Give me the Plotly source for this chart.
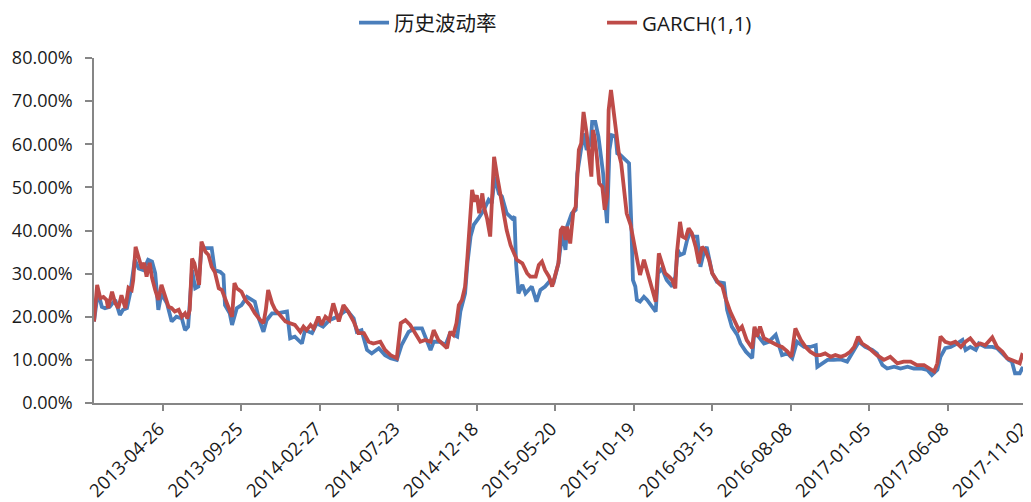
import plotly.graph_objects as go

# trading-day index positions and values (%)
hv_idx = [0, 5, 10, 14, 20, 27, 33, 37, 42, 46, 52, 57, 63, 69, 74, 78, 82, 86, 93, 99, 105, 112, 116, 120,
          125, 129, 133, 137, 144, 150, 154, 161, 165, 167, 173, 176, 182, 188, 195, 205, 210, 216, 220, 227,
          233, 246, 250, 256, 265, 269, 278, 284, 292, 300, 310, 322, 331, 335, 341, 348, 354, 363, 371, 378,
          386, 392, 401, 409, 418, 422, 429, 433, 441, 448, 454, 463, 467, 473, 476, 480, 484, 490, 497, 503,
          507, 511, 516, 520, 526, 533, 536, 538, 541, 546, 550, 558, 564, 569, 575, 582, 586, 592, 597, 601,
          603, 609, 614, 616, 620, 624, 628, 633, 635, 639, 643, 645, 649, 651, 654, 657, 660, 665, 667, 671,
          677, 682, 685, 687, 690, 692, 696, 701, 705, 711, 716, 719, 724, 730, 737, 741, 744, 747, 752, 756,
          760, 764, 769, 773, 777, 781, 788, 794, 803, 807, 813, 820, 824, 831, 839, 842, 847, 854, 860, 869,
          877, 884, 890, 896, 905, 913, 920, 922, 928, 935, 943, 952, 960, 966, 975, 983, 992, 998, 1005, 1011,
          1020, 1028, 1037, 1045, 1054, 1062, 1068, 1075, 1079, 1085, 1092, 1100, 1107, 1111, 1117, 1124, 1128,
          1136, 1145, 1151, 1160, 1166, 1170, 1174, 1180, 1183, 1188]
hv_val = [18.9, 25.8, 22.3, 22.0, 22.3, 23.9, 20.4, 21.6, 22.0, 25.4, 33.2, 31.2, 30.8, 33.2, 32.8, 30.1, 21.6,
          25.4, 23.1, 18.9, 20.0, 19.6, 16.9, 17.7, 30.8, 26.6, 27.0, 35.9, 35.9, 35.9, 30.8, 30.4, 29.7, 22.7,
          20.8, 18.1, 22.0, 22.7, 24.6, 23.5, 19.6, 16.5, 19.2, 20.8, 20.8, 21.2, 15.0, 15.4, 13.8, 16.9, 16.2,
          18.5, 17.7, 19.2, 20.0, 21.6, 19.6, 16.5, 16.9, 12.3, 11.5, 12.7, 11.1, 10.4, 10.0, 13.4, 16.5, 17.3,
          17.3, 15.4, 12.3, 14.2, 14.2, 13.4, 16.2, 15.4, 21.2, 25.4, 32.4, 38.6, 41.3, 42.8, 44.8, 47.1, 46.3,
          52.5, 48.6, 47.9, 44.0, 42.8, 43.2, 32.4, 25.4, 27.4, 25.4, 27.0, 23.5, 26.2, 27.0, 28.5, 28.1, 32.4,
          39.4, 35.5, 40.9, 44.0, 44.8, 53.2, 57.9, 62.5, 58.7, 60.2, 65.2, 65.2, 61.8, 58.7, 53.2, 47.8, 41.7,
          58.7, 62.1, 61.8, 57.9, 57.5, 56.3, 55.6, 40.9, 28.5, 27.0, 23.9, 23.5, 24.6, 23.9, 22.3, 21.2, 30.1,
          31.2, 28.5, 27.0, 29.3, 35.5, 34.3, 34.7, 37.8, 39.7, 38.6, 38.6, 31.6, 34.7, 36.2, 30.1, 28.1, 27.8,
          21.6, 17.7, 15.8, 13.8, 11.9, 10.4, 17.3, 15.4, 13.8, 14.2, 15.8, 11.1, 11.5, 10.4, 14.2, 13.0, 13.0,
          13.4, 8.4, 9.2, 10.0, 10.0, 10.1, 9.6, 11.5, 14.2, 13.0, 12.3, 11.5, 8.8, 8.0, 8.4, 8.0, 8.4, 8.0, 8.0,
          7.7, 6.5, 7.7, 10.7, 12.7, 13.0, 13.8, 14.6, 12.3, 13.0, 12.3, 13.8, 13.0, 13.0, 12.7, 11.1, 10.0, 9.6,
          6.9, 6.9, 8.0, 7.7]

garch_idx = [0, 4, 8, 12, 16, 18, 23, 27, 31, 35, 40, 44, 48, 50, 53, 57, 61, 64, 67, 71, 74, 78, 82, 86, 91,
             95, 99, 103, 108, 112, 116, 119, 122, 125, 128, 131, 134, 137, 142, 146, 150, 154, 159, 163, 167,
             171, 176, 179, 182, 188, 193, 199, 205, 212, 216, 219, 222, 227, 231, 237, 244, 250, 256, 263, 267,
             271, 276, 280, 286, 290, 295, 300, 305, 312, 318, 324, 331, 337, 344, 350, 356, 365, 371, 378, 386,
             391, 397, 403, 409, 416, 422, 429, 433, 439, 446, 450, 454, 458, 462, 465, 469, 473, 476, 479, 482,
             485, 488, 491, 495, 497, 501, 505, 508, 510, 514, 518, 522, 526, 531, 535, 539, 546, 552, 556, 563,
             567, 571, 575, 580, 584, 588, 592, 595, 598, 601, 603, 607, 611, 614, 616, 618, 621, 624, 628, 631,
             634, 636, 638, 641, 644, 648, 651, 654, 656, 659, 662, 665, 669, 672, 675, 679, 684, 688, 692, 696,
             701, 705, 709, 716, 720, 724, 728, 733, 737, 741, 743, 747, 750, 754, 758, 762, 767, 771, 775, 779,
             784, 788, 792, 796, 801, 805, 811, 818, 822, 826, 832, 839, 842, 845, 849, 854, 858, 864, 871, 877,
             884, 889, 894, 901, 907, 913, 920, 926, 932, 939, 945, 952, 958, 964, 969, 974, 979, 986, 992, 998,
             1007, 1015, 1024, 1032, 1041, 1049, 1058, 1064, 1071, 1075, 1079, 1085, 1092, 1098, 1105, 1111, 1117,
             1124, 1130, 1136, 1145, 1151, 1158, 1164, 1173, 1180, 1183, 1188]
garch_val = [18.9, 27.4, 24.3, 24.6, 23.9, 22.0, 25.8, 23.2, 22.0, 25.0, 22.0, 26.7, 26.2, 28.5, 36.2, 33.9,
             31.2, 32.5, 29.3, 32.5, 29.0, 26.2, 23.9, 27.4, 24.6, 22.3, 22.0, 21.2, 21.6, 20.0, 20.8, 19.6, 21.6,
             33.5, 32.4, 30.1, 27.4, 37.4, 35.1, 34.3, 31.6, 30.4, 26.6, 26.2, 24.3, 22.0, 20.0, 27.8, 26.6, 25.8,
             23.9, 22.7, 20.8, 19.2, 18.5, 21.6, 26.2, 23.1, 21.6, 20.4, 18.9, 18.5, 18.1, 16.5, 17.7, 16.9, 18.1,
             17.3, 20.0, 18.1, 20.0, 19.2, 23.1, 18.9, 22.7, 21.2, 18.9, 16.2, 16.2, 14.2, 13.8, 14.2, 12.3, 11.1,
             10.4, 18.5, 19.2, 18.1, 16.2, 14.2, 14.6, 14.2, 16.9, 14.6, 13.4, 12.7, 16.5, 15.8, 18.5, 22.7, 23.9,
             27.0, 33.9, 41.7, 49.4, 46.7, 48.2, 44.0, 48.6, 45.5, 42.8, 38.6, 51.7, 57.1, 52.5, 48.6, 44.8, 40.1,
             36.6, 34.7, 33.2, 32.4, 30.1, 29.3, 29.3, 32.0, 32.8, 30.8, 29.3, 27.0, 30.1, 32.4, 40.1, 40.9, 37.8,
             40.9, 37.0, 44.4, 45.5, 54.0, 58.7, 60.2, 67.5, 62.5, 57.9, 52.5, 63.3, 61.8, 57.1, 50.9, 50.1, 44.8,
             47.8, 67.9, 72.6, 67.9, 64.5, 57.9, 55.6, 50.1, 44.0, 41.3, 37.8, 33.9, 29.7, 33.2, 30.4, 27.8, 23.5,
             34.7, 32.4, 30.1, 29.3, 28.5, 26.6, 34.7, 42.0, 38.6, 38.2, 40.5, 39.4, 36.2, 32.4, 36.2, 35.5, 33.2,
             30.1, 28.9, 27.8, 27.0, 24.3, 21.2, 18.1, 16.9, 17.7, 14.6, 12.7, 17.7, 15.4, 17.7, 15.0, 14.6, 14.2,
             13.4, 13.0, 11.9, 10.7, 17.3, 14.6, 13.0, 11.9, 11.1, 11.1, 11.5, 10.7, 11.1, 10.7, 11.1, 11.9, 13.0,
             15.4, 13.8, 13.0, 11.9, 11.1, 10.0, 10.7, 9.2, 9.6, 9.6, 8.8, 8.8, 8.0, 7.3, 9.2, 15.4, 14.2, 13.8,
             14.2, 13.0, 14.2, 15.0, 13.4, 13.8, 13.4, 15.2, 13.0, 11.9, 10.4, 9.6, 9.2, 11.1, 10.6]

tick_idx = [88, 188, 288, 388, 488, 588, 688, 788, 888, 988, 1088, 1188]
tick_labels = ["2013-04-26", "2013-09-25", "2014-02-27", "2014-07-23", "2014-12-18", "2015-05-20",
               "2015-10-19", "2016-03-15", "2016-08-08", "2017-01-05", "2017-06-08", "2017-11-02"]

FONT = "Open Sans, Noto Sans CJK SC, sans-serif"
AXIS = "#868686"

fig = go.Figure()
fig.add_trace(go.Scatter(x=hv_idx, y=[v / 100 for v in hv_val], mode="lines", name="历史波动率",
                         line=dict(color="#4A7EBB", width=3.8)))
fig.add_trace(go.Scatter(x=garch_idx, y=[v / 100 for v in garch_val], mode="lines", name="GARCH(1,1)",
                         line=dict(color="#BE4B48", width=3.8)))

fig.update_layout(
    width=1031, height=502,
    margin=dict(l=86, r=13, t=50, b=107, autoexpand=False),
    paper_bgcolor="white", plot_bgcolor="white",
    font=dict(family=FONT, size=17, color="#1a1a1a"),
    showlegend=True,
    legend=dict(orientation="h", x=0.279, y=1.16, xanchor="left", yanchor="top",
                entrywidth=203, entrywidthmode="pixels", font=dict(size=20.5),
                bgcolor="rgba(0,0,0,0)"),
    xaxis=dict(range=[0, 1188], tickmode="array", tickvals=tick_idx, ticktext=tick_labels,
               tickangle=-45, showgrid=False, zeroline=False, showline=True, linecolor=AXIS,
               linewidth=1.5, ticks="outside", ticklen=6, tickcolor=AXIS, tickwidth=1.5,
               tickfont=dict(size=18.5), automargin=False, ticklabeloverflow="allow",
               ticklabelshift=-4),
    yaxis=dict(range=[0, 0.8], tickmode="linear", tick0=0, dtick=0.1, tickformat=".2%",
               showgrid=False, zeroline=False, showline=True, linecolor=AXIS, linewidth=1.5,
               ticks="outside", ticklen=7, tickcolor=AXIS, tickwidth=1.5, ticklabelstandoff=9,
               tickfont=dict(size=18), automargin=False, ticklabeloverflow="allow"),
)

fig.write_html("out.html")
